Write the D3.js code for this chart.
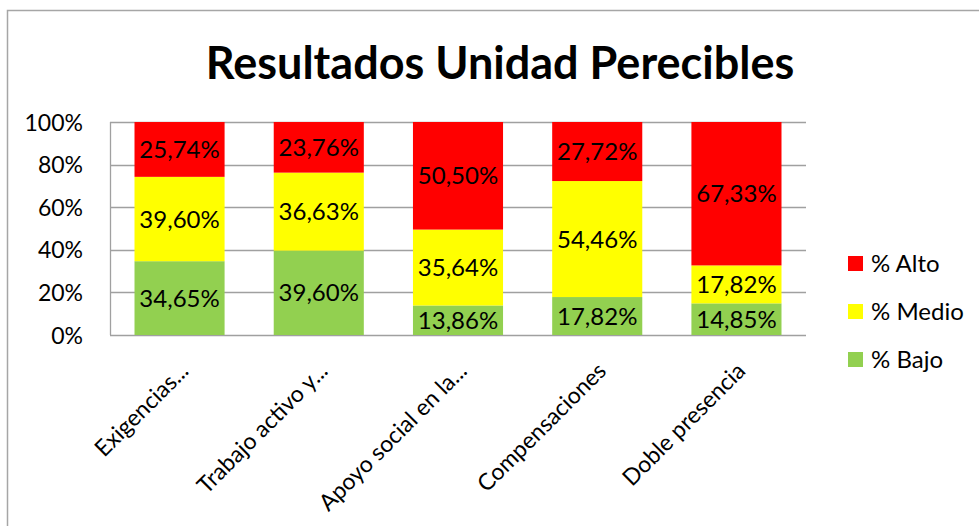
<!DOCTYPE html>
<html lang="es">
<head>
  <meta charset="UTF-8">
  <title>Resultados Unidad Perecibles</title>
  <script src="https://d3js.org/d3.v7.min.js"></script>
  <style>
    html, body { margin: 0; padding: 0; background: #fff; }
    body { font-family: Lato, 'Open Sans', sans-serif; }
  </style>
</head>
<body>
  <div id="chart"></div>
  <script>
    var categories = ["Exigencias...", "Trabajo activo y...", "Apoyo social en la...", "Compensaciones", "Doble presencia"];
    var bajo  = [34.65, 39.60, 13.86, 17.82, 14.85];
    var medio = [39.60, 36.63, 35.64, 54.46, 17.82];
    var alto  = [25.74, 23.76, 50.50, 27.72, 67.33];
    var seriesNames = ["% Bajo", "% Medio", "% Alto"];
    var yTicks = [0, 20, 40, 60, 80, 100];

    var width = 979, height = 526;
    var margin = { top: 122, right: 173, bottom: 191, left: 110 };
    var colors = { "% Alto": "#ff0000", "% Medio": "#ffff00", "% Bajo": "#92d050" };

    var svg = d3.select("#chart").append("svg")
      .attr("width", width)
      .attr("height", height);

    // chart border
    svg.append("rect")
      .attr("x", 7.5).attr("y", 10.5)
      .attr("width", width + 10).attr("height", height + 10)
      .attr("fill", "#fff")
      .attr("stroke", "#a6a6a6")
      .attr("stroke-width", 1.5);

    svg.append("text")
      .attr("x", 500).attr("y", 79)
      .attr("text-anchor", "middle")
      .attr("font-size", "45px")
      .attr("font-weight", "bold")
      .attr("fill", "#000")
      .text("Resultados Unidad Perecibles");

    var x = d3.scaleBand().domain(categories)
      .range([margin.left, width - margin.right])
      .paddingInner(0.353).paddingOuter(0.176);
    var y = d3.scaleLinear().domain([0, 100]).range([height - margin.bottom, margin.top]);

    // gridlines
    svg.append("g").selectAll("line")
      .data(yTicks)
      .enter().append("line")
      .attr("x1", margin.left).attr("x2", width - margin.right)
      .attr("y1", function(d) { return Math.round(y(d)) + 0.5; })
      .attr("y2", function(d) { return Math.round(y(d)) + 0.5; })
      .attr("stroke", "#a0a0a0")
      .attr("stroke-width", 1.3);

    svg.append("line")
      .attr("x1", margin.left + 0.5).attr("x2", margin.left + 0.5)
      .attr("y1", y(100)).attr("y2", y(0))
      .attr("stroke", "#a0a0a0").attr("stroke-width", 1.3);

    var yAxis = svg.append("g")
      .attr("transform", "translate(" + (margin.left - 27) + ",0)")
      .call(d3.axisLeft(y).tickValues(yTicks).tickSize(0).tickPadding(0)
        .tickFormat(function(d) { return d + "%"; }));
    yAxis.select(".domain").remove();
    yAxis.selectAll("text")
      .attr("font-family", "Lato, sans-serif")
      .attr("font-size", "23px")
      .attr("fill", "#000")
      .attr("dy", "0.35em");

    var table = categories.map(function(c, i) {
      return { cat: c, "% Bajo": bajo[i], "% Medio": medio[i], "% Alto": alto[i] };
    });
    var stacked = d3.stack().keys(seriesNames)(table);

    var groups = svg.selectAll(".serie")
      .data(stacked)
      .enter().append("g")
      .attr("class", "serie");

    groups.selectAll("rect")
      .data(function(s) { return s.map(function(d) { return { key: s.key, d: d }; }); })
      .enter().append("rect")
      .attr("x", function(p) { return x(p.d.data.cat); })
      .attr("width", x.bandwidth())
      .attr("y", function(p) { return y(p.d[1]); })
      .attr("height", function(p) { return y(p.d[0]) - y(p.d[1]); })
      .attr("fill", function(p) { return colors[p.key]; });

    groups.selectAll("text")
      .data(function(s) { return s.map(function(d) { return { key: s.key, d: d }; }); })
      .enter().append("text")
      .attr("x", function(p) { return x(p.d.data.cat) + x.bandwidth() / 2; })
      .attr("y", function(p) { return (y(p.d[0]) + y(p.d[1])) / 2; })
      .attr("dy", "0.36em")
      .attr("text-anchor", "middle")
      .attr("font-size", "24px")
      .attr("fill", "#000")
      .text(function(p) { return (p.d[1] - p.d[0]).toFixed(2).replace(".", ",") + "%"; });

    // x labels
    svg.append("g").selectAll("text")
      .data(categories)
      .enter().append("text")
      .attr("transform", function(d) {
        return "translate(" + (x(d) + x.bandwidth() / 2 - 1) + "," + (y(0) + 26) + ") rotate(-45)";
      })
      .attr("text-anchor", "end")
      .attr("dy", "0.7em")
      .attr("font-size", "23px")
      .attr("fill", "#000")
      .text(function(d) { return d; });

    // legend
    var legend = svg.append("g").selectAll("g")
      .data(seriesNames.slice().reverse())
      .enter().append("g")
      .attr("transform", function(d, i) { return "translate(848," + (256 + i * 48) + ")"; });
    legend.append("rect")
      .attr("width", 15).attr("height", 15)
      .attr("fill", function(d) { return colors[d]; });
    legend.append("text")
      .attr("x", 23).attr("y", 7.5)
      .attr("dy", "0.36em")
      .attr("font-size", "24px")
      .attr("fill", "#000")
      .text(function(d) { return d; });
  </script>
</body>
</html>
